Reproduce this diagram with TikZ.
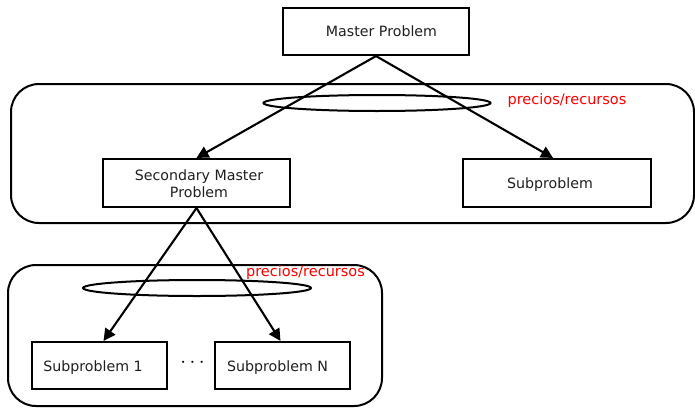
\documentclass[tikz,border=0pt]{standalone}
\usepackage{fontspec}
\setmainfont{DejaVu Sans}
\usetikzlibrary{arrows.meta}
\begin{document}
\begin{tikzpicture}[x=1pt,y=-1pt,
  every node/.style={font=\fontsize{14.2}{17}\selectfont, text=black!88},
  box/.style={draw=black, line width=2.1pt, inner sep=0pt},
  group/.style={draw=black, line width=2pt, rounded corners=28pt},
  ring/.style={draw=black, line width=2pt},
  link/.style={draw=black, line width=2.1pt, -{Triangle[length=12pt,width=12pt]}},
  label/.style={text=red, font=\fontsize{14.5}{17}\selectfont}]
\useasboundingbox (0,0) rectangle (695,407);

% grouping frames
\draw[group] (11,84) rectangle (694,223);
\draw[group] (8,265) rectangle (382,406);

% problem boxes
\node[box, minimum width=186pt, minimum height=47pt] (mp) at (376,31.5) {};
\node[box, minimum width=187pt, minimum height=48pt] (smp) at (196.5,183) {};
\node[box, minimum width=188pt, minimum height=48pt] (sp) at (557,183) {};
\node[box, minimum width=135pt, minimum height=47pt] (sp1) at (99.5,365.5) {};
\node[box, minimum width=135pt, minimum height=47pt] (spn) at (282.5,365.5) {};

% box captions
\node (mpt) at ([xshift=5.5pt]mp.center) {Master Problem};
\node[align=center] (smpt) at ([xshift=2.5pt,yshift=-0.5pt]smp.center) {Secondary Master\\Problem};
\node (spt) at ([xshift=-7pt,yshift=-1.5pt]sp.center) {Subproblem};
\node (sp1t) at ([xshift=-6.5pt,yshift=-2.5pt]sp1.center) {Subproblem 1};
\node (spnt) at ([xshift=-5pt,yshift=-2.5pt]spn.center) {Subproblem N};
\node[font=\fontsize{20}{20}\selectfont, text=black] (dots) at (192.5,363) {$\cdots$};

% price / resource exchange rings
\draw[ring] (377,103) ellipse (113.5 and 8);
\draw[ring] (197,288) ellipse (114 and 8);
\node[label] (lab1) at (567,100) {precios/recursos};
\node[label] (lab2) at (305.5,272) {precios/recursos};

% decomposition arrows
\draw[link] (mp.south) -- (smp.north);
\draw[link] (mp.south) -- ([xshift=-4pt]sp.north);
\draw[link] (smp.south) -- ([xshift=4pt]sp1.north);
\draw[link] (smp.south) -- ([xshift=-2pt]spn.north);
\end{tikzpicture}
\end{document}
